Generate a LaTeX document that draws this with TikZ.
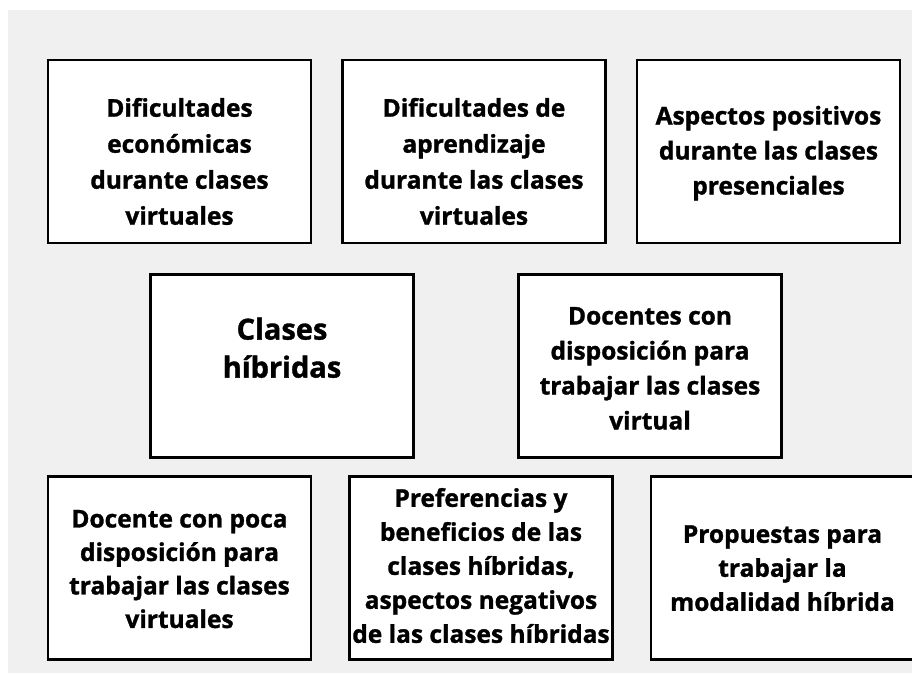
\documentclass[tikz,border=0pt]{standalone}
\usepackage{fontspec}
\setmainfont{Open Sans}[BoldFeatures={FakeBold=1.2}]
\definecolor{paper}{RGB}{240, 240, 240}
\usetikzlibrary{positioning}
% texto centrado y desplazado verticalmente dentro de la caja
\newcommand{\boxtext}[2]{\raisebox{#1}[\height][\depth]{\begin{tabular}{@{}c@{}}#2\end{tabular}}}

\begin{document}
\begin{tikzpicture}[x=1pt, y=-1pt,
    catbox/.style={draw=black, line width=2.8pt, fill=white, minimum width=263pt, minimum height=183pt,
      inner sep=0pt, font=\fontsize{24.5}{35}\selectfont\bfseries},
    topbox/.style={catbox, font=\fontsize{24.5}{36}\selectfont\bfseries},
    bigbox/.style={catbox, font=\fontsize{29}{38}\selectfont\bfseries}]
  \clip (0,0) rectangle (912,673);
  \fill[white] (0,0) rectangle (912,673);
  \fill[paper] (8,10) rectangle (912,673);

  % fila superior
  \node[topbox] (econ) at (179.5,151.5) {\boxtext{-12pt}{Dificultades\\econ\'omicas\\durante clases\\virtuales}};
  \node[topbox] (aprend) at (474,151.5) {\boxtext{-12pt}{Dificultades de\\aprendizaje\\durante las clases\\virtuales}};
  \node[catbox] (positivos) at (768.5,151.5) {\boxtext{-1pt}{Aspectos positivos\\durante las clases\\presenciales}};

  % fila central
  \node[bigbox] (hibridas) at (282,366) {\boxtext{15pt}{Clases\\h\'ibridas}};
  \node[catbox] (dispuestos) at (650,366) {\boxtext{-4pt}{Docentes con\\disposici\'on para\\trabajar las clases\\virtual}};

  % fila inferior
  \node[catbox] (pocadisp) at (179.5,568) {\fontsize{24.5}{33.5}\selectfont\boxtext{-3pt}{Docente con poca\\disposici\'on para\\trabajar las clases\\virtuales}};
  \node[catbox] (preferencias) at (481,568) {\fontsize{24.5}{34}\selectfont\boxtext{0pt}{Preferencias y\\beneficios de las\\clases h\'ibridas,\\aspectos negativos\\de las clases h\'ibridas}};
  \node[catbox] (propuestas) at (782.5,568) {\fontsize{24.5}{34}\selectfont\boxtext{-2pt}{Propuestas para\\trabajar la\\modalidad h\'ibrida}};
\end{tikzpicture}
\end{document}
